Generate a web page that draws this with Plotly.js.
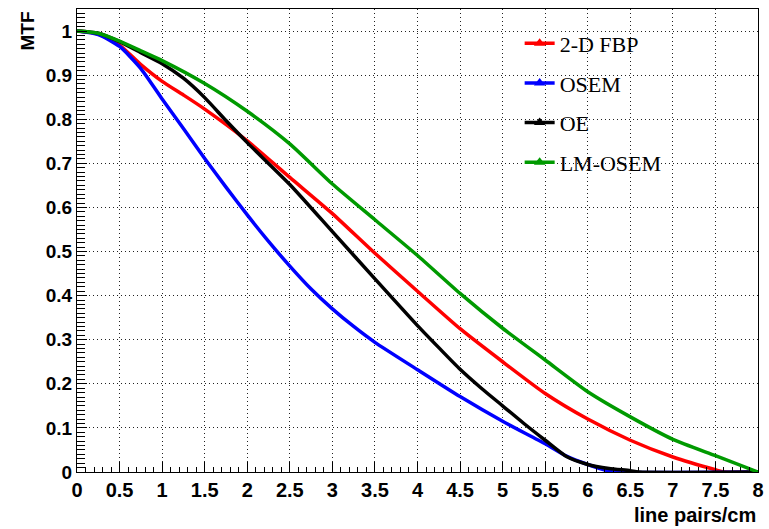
<!DOCTYPE html>
<html>
<head>
<meta charset="utf-8">
<script src="https://cdn.plot.ly/plotly-3.0.1.min.js"></script>
<style>html,body{margin:0;padding:0;background:#fff;}#chart{width:769px;height:529px;}</style>
</head>
<body>
<div id="chart"></div>
<script>
// Data
const seriesNames = ["2-D FBP", "OSEM", "OE", "LM-OSEM"];
const seriesColors = ["#ff0000", "#0000ff", "#000000", "#009a00"];

const fbpX = [0, 0.25, 0.5, 0.75, 1, 1.25, 1.5, 2, 2.5, 3, 3.5, 4, 4.5, 5, 5.5, 6, 6.5, 7, 7.5, 7.6, 8];
const fbpY = [1.0, 0.993, 0.968, 0.924, 0.886, 0.855, 0.823, 0.751, 0.668, 0.586, 0.496, 0.410, 0.325, 0.250, 0.178, 0.120, 0.072, 0.034, 0.005, 0, 0];

const osemX = [0, 0.25, 0.5, 0.75, 1, 1.25, 1.5, 1.75, 2, 2.25, 2.5, 2.75, 3, 3.25, 3.5, 4, 4.5, 5, 5.5, 5.75, 6, 6.25, 6.3, 8];
const osemY = [1.0, 0.992, 0.965, 0.915, 0.846, 0.779, 0.711, 0.646, 0.583, 0.523, 0.467, 0.415, 0.370, 0.330, 0.294, 0.232, 0.171, 0.115, 0.064, 0.036, 0.017, 0.002, 0, 0];

const oeX = [0, 0.25, 0.5, 0.75, 1, 1.25, 1.5, 1.75, 2, 2.5, 3, 3.5, 4, 4.25, 4.5, 4.75, 5, 5.25, 5.5, 5.75, 6, 6.25, 6.5, 6.6, 8];
const oeY = [1.0, 0.995, 0.976, 0.951, 0.926, 0.893, 0.849, 0.797, 0.747, 0.652, 0.545, 0.438, 0.332, 0.282, 0.233, 0.190, 0.150, 0.110, 0.072, 0.035, 0.017, 0.008, 0.003, 0, 0];

const lmX = [0, 0.25, 0.5, 0.75, 1, 1.5, 2, 2.5, 3, 3.5, 4, 4.5, 5, 5.5, 6, 6.5, 7, 7.5, 8];
const lmY = [1.0, 0.995, 0.977, 0.955, 0.933, 0.881, 0.818, 0.744, 0.653, 0.572, 0.491, 0.405, 0.326, 0.254, 0.182, 0.125, 0.074, 0.037, 0];

const xs = [fbpX, osemX, oeX, lmX];
const ys = [fbpY, osemY, oeY, lmY];

const xTickVals = [0, 0.5, 1, 1.5, 2, 2.5, 3, 3.5, 4, 4.5, 5, 5.5, 6, 6.5, 7, 7.5, 8];
const xTickText = ["0", "0.5", "1", "1.5", "2", "2.5", "3", "3.5", "4", "4.5", "5", "5.5", "6", "6.5", "7", "7.5", "8"];
const yTickVals = [0, 0.1, 0.2, 0.3, 0.4, 0.5, 0.6, 0.7, 0.8, 0.9, 1];
const yTickText = ["0", "0.1", "0.2", "0.3", "0.4", "0.5", "0.6", "0.7", "0.8", "0.9", "1"];

const traces = [];
for (let i = 0; i < seriesNames.length; i++) {
  traces.push({
    x: xs[i], y: ys[i], type: "scatter", mode: "lines",
    line: {color: seriesColors[i], width: 3.5, shape: "spline", smoothing: 0.6},
    showlegend: false, hoverinfo: "skip"
  });
}
for (let i = 0; i < seriesNames.length; i++) {
  traces.push({
    x: [null], y: [null], type: "scatter", mode: "lines+markers",
    name: seriesNames[i], legendgroup: "g" + i,
    line: {color: seriesColors[i], width: 3.5},
    marker: {symbol: "triangle-up", size: 10, color: seriesColors[i]}
  });
}

const sansBold = "Liberation Sans, Arial, sans-serif";

const layout = {
  width: 769, height: 529,
  margin: {l: 77, r: 11, t: 9, b: 57, pad: 0},
  paper_bgcolor: "#fff", plot_bgcolor: "#fff",
  showlegend: true,
  xaxis: {
    range: [0, 8], tickvals: xTickVals, ticktext: xTickText,
    ticks: "inside", ticklen: 10, tickwidth: 1, tickcolor: "#000",
    showline: true, linecolor: "#000", linewidth: 1, mirror: true,
    showgrid: true, gridcolor: "#222", griddash: "1px,3px", gridwidth: 1,
    zeroline: false,
    tickfont: {family: sansBold, size: 20, color: "#000", weight: 700},
    minor: {dtick: 0.1, ticks: "inside", ticklen: 5, tickcolor: "#000", showgrid: false}
  },
  yaxis: {
    range: [0, 1.05], tickvals: yTickVals, ticktext: yTickText,
    ticks: "inside", ticklen: 10, tickwidth: 1, tickcolor: "#000",
    showline: true, linecolor: "#000", linewidth: 1, mirror: true,
    showgrid: true, gridcolor: "#222", griddash: "1px,3px", gridwidth: 1,
    zeroline: false,
    tickfont: {family: sansBold, size: 19, color: "#000", weight: 700},
    minor: {dtick: 0.01, ticks: "inside", ticklen: 8, tickcolor: "#000", showgrid: false}
  },
  legend: {
    x: 0.650, y: 0.9707, xanchor: "left", yanchor: "top",
    bgcolor: "rgba(0,0,0,0)", borderwidth: 0,
    font: {family: "Liberation Serif, Times New Roman, serif", size: 22, color: "#000"},
    tracegroupgap: 8
  },
  annotations: [
    {text: "MTF", xref: "paper", yref: "paper", x: -0.072, y: 1.0, xanchor: "center", yanchor: "top",
     textangle: -90, showarrow: false,
     font: {family: sansBold, size: 19, color: "#000", weight: 700}},
    {text: "line pairs/cm", xref: "paper", yref: "paper", x: 1.0, y: -0.065, xanchor: "right", yanchor: "top",
     showarrow: false,
     font: {family: sansBold, size: 20, color: "#000", weight: 700}}
  ]
};

Plotly.newPlot("chart", traces, layout, {displayModeBar: false, staticPlot: true});
</script>
</body>
</html>
